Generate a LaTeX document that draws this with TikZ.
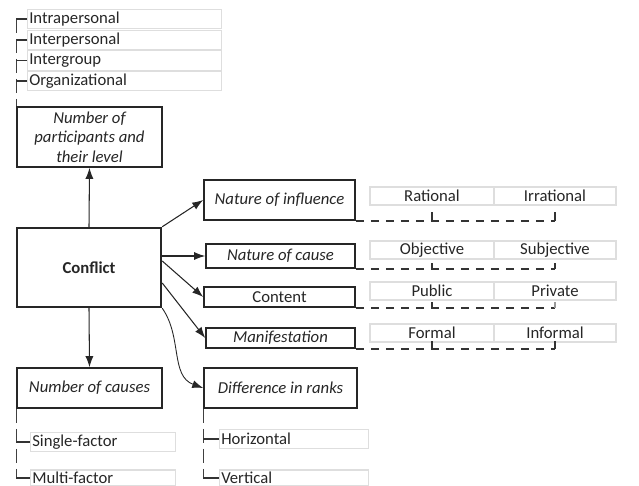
\documentclass[tikz,border=0pt]{standalone}
\usepackage{fontspec}
\setmainfont{Carlito}
\usetikzlibrary{arrows.meta,positioning}

\begin{document}
\begin{tikzpicture}[x=0.2mm, y=-0.2mm, >={Latex[length=2.2mm,width=1.6mm]},
  font=\fontsize{9.5}{11}\selectfont, text=black!85,
  b/.style={rectangle, draw=black!85, line width=0.9pt, fill=white,
            align=center, inner sep=1pt, font=\fontsize{9.5}{11}\selectfont\itshape},
  opt/.style={rectangle, draw=black!13, line width=0.6pt, inner sep=1pt,
              minimum height=3.6mm},
  item/.style={opt, anchor=west, align=left, text width=38mm, minimum height=3.9mm},
  arr/.style={->, line width=0.6pt, draw=black!85},
  dline/.style={line width=0.9pt, draw=black!80, dash pattern=on 1.6mm off 1.4mm},
  vline/.style={line width=0.6pt, draw=black!75, dash pattern=on 2.8mm off 1.2mm},
  tick/.style={line width=0.7pt, draw=black!80}]
  \useasboundingbox (0,0) rectangle (639,486);

  % main boxes
  \node[b, minimum width=28.8mm, minimum height=15.8mm, line width=1.4pt,
        font=\fontsize{9.5}{11}\selectfont\bfseries] (conf) at (89,267.5) {Conflict};
  \node[b, minimum width=29mm, minimum height=12mm] (part) at (89.5,137)
       {Number of\\participants and\\their level};
  \node[b, minimum width=29mm, minimum height=8mm] (causes) at (89.5,388) {Number of causes};
  \node[b, minimum width=30.6mm, minimum height=8mm] (ranks) at (280.5,388) {Difference in ranks};
  \node[b, minimum width=30.2mm, minimum height=8mm] (infl) at (279.5,200) {Nature of influence};
  \node[b, minimum width=29.8mm, minimum height=4.8mm] (cause) at (280.5,256) {Nature of cause};
  \node[b, minimum width=30.2mm, minimum height=4mm, font=\fontsize{9.5}{11}\selectfont] (cont) at (279.5,297) {Content};
  \node[b, minimum width=29.8mm, minimum height=4mm] (manif) at (280.5,338) {Manifestation};

  % arrows from conflict
  \draw[arr] (conf.north) -- (part.south);
  \draw[arr] (conf.south) -- (causes.north);
  \draw[arr] (conf.north east) -- (infl.west);
  \draw[arr] (conf.east |- cause.west) -- (cause.west);
  \draw[arr] ([yshift=1.3mm]conf.east) -- (cont.west);
  \draw[arr] ([yshift=-3.1mm]conf.east) -- (manif.west);
  \draw[arr, line width=0.5pt] (conf.south east) to[out=-55, in=160] (ranks.west);

  % levels of participants
  \node[item] (intra) at (27,19) {Intrapersonal};
  \node[item] (inter) at (27,40) {Interpersonal};
  \node[item] (grp) at (27,60.5) {Intergroup};
  \node[item] (org) at (27,81) {Organizational};
  \draw[vline] (intra.west -| part.north west) -- (part.north west);
  \foreach \n in {intra,inter,grp,org}
    \draw[tick] (\n.west -| part.north west) -- (\n.west);

  % number of causes
  \node[item, text width=28.2mm] (single) at (30,442) {Single-factor};
  \node[item, text width=28.2mm, minimum height=3.2mm] (multi) at (30,478) {Multi-factor};
  \draw[vline] (causes.south west) -- (multi.west -| causes.south west);
  \foreach \n in {single,multi}
    \draw[tick] (\n.west -| causes.south west) -- (\n.west);

  % difference in ranks
  \node[item, text width=29mm] (horiz) at (219,439) {Horizontal};
  \node[item, text width=29mm, minimum height=3.2mm] (vert) at (219,478) {Vertical};
  \draw[vline] (ranks.south west) -- (vert.west -| ranks.south west);
  \foreach \n in {horiz,vert}
    \draw[tick] (\n.west -| ranks.south west) -- (\n.west);

  % pairs on the right
  \node[opt, minimum width=24.8mm] (rat) at (432,196) {Rational};
  \node[opt, minimum width=24.4mm] (irr) at (555,196) {Irrational};
  \node[opt, minimum width=24.8mm] (obj) at (432,250) {Objective};
  \node[opt, minimum width=24.4mm] (subj) at (555,250) {Subjective};
  \node[opt, minimum width=24.8mm] (pub) at (432,291) {Public};
  \node[opt, minimum width=24.4mm] (priv) at (555,291) {Private};
  \node[opt, minimum width=24.8mm] (form) at (432,333) {Formal};
  \node[opt, minimum width=24.4mm] (inf) at (555,333) {Informal};

  \draw[dline] (infl.south east) -- (infl.south east -| irr.south);
  \draw[tick] (infl.south east -| rat.south) -- ++(0,-9);
  \draw[tick] (infl.south east -| irr.south) -- ++(0,-9);
  \draw[dline] (cause.south east) -- (cause.south east -| subj.south);
  \draw[tick] (cause.south east -| obj.south) -- ++(0,-6);
  \draw[tick] (cause.south east -| subj.south) -- ++(0,-6);
  \draw[dline] (cont.south east) -- (cont.south east -| priv.south);
  \draw[tick] (cont.south east -| pub.south) -- ++(0,-6);
  \draw[tick, draw=black!40] (cont.south east -| priv.south) -- ++(0,-6);
  \draw[dline] (manif.south east) -- (manif.south east -| inf.south);
  \draw[tick] (manif.south east -| form.south) -- ++(0,-8);
  \draw[tick] (manif.south east -| inf.south) -- ++(0,-8);
\end{tikzpicture}
\end{document}
